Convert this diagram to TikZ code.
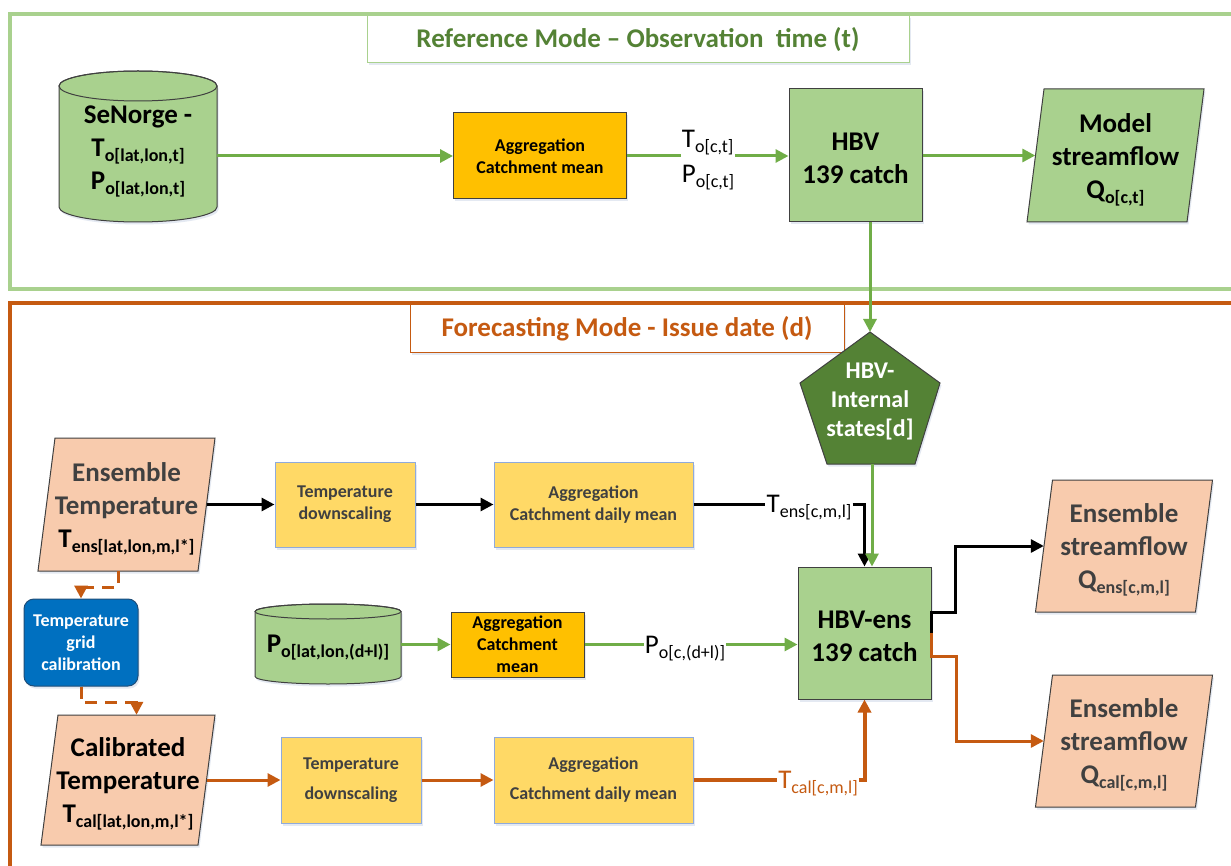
\documentclass[tikz,border=0pt]{standalone}
\usepackage{fontspec}
\setmainfont{Carlito}
\usetikzlibrary{arrows.meta,shadows,calc}
\definecolor{lgreen}{HTML}{A9D18E}
\definecolor{mgreen}{HTML}{70AD47}
\definecolor{dgreen}{HTML}{548235}
\definecolor{gold}{HTML}{FFC000}
\definecolor{lyellow}{HTML}{FFD966}
\definecolor{peach}{HTML}{F8CBAD}
\definecolor{rust}{HTML}{C55A11}
\definecolor{bblue}{HTML}{0070C0}
\definecolor{dblue}{HTML}{1F4E79}
\definecolor{dgray}{HTML}{404040}
\definecolor{ybord}{HTML}{8FAADC}
\definecolor{shad}{HTML}{C5D0E3}
\newcommand\mysub[1]{\raisebox{-5pt}{\fontsize{18}{20}\selectfont #1}}
\newcommand\fbig{\fontsize{27}{33}\selectfont}
\newcommand\fmid{\fontsize{24}{29}\selectfont}
\newcommand\fsmall{\fontsize{18}{22}\selectfont}
\tikzset{
  shd/.style={drop shadow={shadow xshift=1.5pt,shadow yshift=-2.5pt,opacity=0.45,fill=shad}},
  aggbox/.style={draw=black!75,fill=gold,line width=1pt,font=\fsmall\bfseries,align=center,shd},
  ybox/.style={draw=ybord,fill=lyellow,line width=1pt,text=dgray,font=\fsmall\bfseries,align=center,shd},
  gbox/.style={draw=black!75,fill=lgreen,line width=1pt,font=\fbig\bfseries,align=center,shd},
  lbl/.style={font=\fbig,inner sep=1pt,align=left},
  tip/.style={-{Triangle[length=13pt,width=13pt]}},
  gline/.style={draw=mgreen,line width=3pt},
  kline/.style={draw=black,line width=3pt},
  oline/.style={draw=rust,line width=3pt},
  othick/.style={draw=rust,line width=4pt},
  dline/.style={draw=rust,line width=3pt,dash pattern=on 12pt off 8pt},
}
% parallelogram: name, cx, cy, half width, half height, style, text
\newcommand\paral[7]{%
  \path[#6,shd] (#2-#4+8.5,#3-#5) -- (#2+#4+8.5,#3-#5) -- (#2+#4-8.5,#3+#5) -- (#2-#4-8.5,#3+#5) -- cycle;
  \node[inner sep=0,minimum width=2*#4 pt,minimum height=2*#5 pt] (#1) at (#2,#3) {};
  \node[inner sep=0,align=center,font=\fbig\bfseries] (#1txt) at (#2,#3+4) {#7};}
\begin{document}
\begin{tikzpicture}[x=1pt,y=-1pt]
\useasboundingbox (0,0) rectangle (1231,866);
\fill[white] (0,0) rectangle (1231,866);
\clip (0,0) rectangle (1231,866);
% frames
\draw[lgreen,line width=3.5pt] (10,14) rectangle (1270,289);
\draw[rust,line width=3.5pt] (10,303) rectangle (1270,900);
% titles
\node[draw=lgreen,line width=1pt,fill=white,minimum width=542pt,minimum height=47pt,shd,font=\fbig\bfseries,text=dgreen] (titleTop) at (638,39.5) {Reference Mode – Observation\ \ time (t)};
\node[draw=rust,line width=1pt,fill=white,minimum width=434pt,minimum height=48pt,shd,font=\fbig\bfseries,text=rust] (titleBot) at (627,329) {Forecasting Mode - Issue date (d)};
% SeNorge cylinder
\path[fill=lgreen,draw=black!75,line width=1pt,shd] (59,86) -- (59,207) arc[start angle=180,end angle=360,x radius=79pt,y radius=15pt] -- (217,86) arc[start angle=0,end angle=180,x radius=79pt,y radius=15pt] -- cycle;
\draw[black!75,line width=1pt] (138,86) ellipse[x radius=79pt,y radius=15pt];
\node[font=\fbig\bfseries,align=center,inner sep=0,minimum width=158pt] (senorge) at (138,151) {SeNorge -\\T\mysub{o[lat,lon,t]}\\P\mysub{o[lat,lon,t]}};
% top row
\node[aggbox,minimum width=173pt,minimum height=86pt] (aggTop) at (540,156) {Aggregation\\Catchment mean};
\node[gbox,minimum width=133pt,minimum height=133pt] (hbv) at (855.5,155.5) {\rule{0pt}{24pt}HBV\\139 catch};
\paral{model}{1115.5}{155.5}{80}{66.5}{fill=lgreen,draw=black!75,line width=1pt}{Model\\streamflow\\Q\mysub{o[c,t]}}
\node[lbl] (lblTP) at (708,160) {T\mysub{o[c,t]}\\[2pt]P\mysub{o[c,t]}};
% pentagon
\path[fill=dgreen,draw=black!75,line width=1pt,shd] (870,332) coordinate (pentTop) -- (940,383) -- (915,464) -- (827,464) -- (800,383) -- cycle;
\coordinate (pentBot) at (872,464);
\node[text=white,font=\fmid\bfseries,align=center] (pent) at (870,401) {HBV-\\Internal\\states[d]};
% ensemble temperature
\paral{tens}{126.5}{504.5}{80}{66.5}{fill=peach,draw=black!75,line width=1pt}{\textcolor{dgray}{Ensemble}\\\textcolor{dgray}{Temperature}\\T\mysub{ens[lat,lon,m,l*]}}
\node[ybox,minimum width=140pt,minimum height=85pt] (tdsTop) at (345,504.5) {Temperature\\downscaling};
\node[ybox,minimum width=199pt,minimum height=85pt] (aggdTop) at (593.5,504.5) {Aggregation\\Catchment daily mean};
\node[lbl] (lblTens) at (809,508) {T\mysub{ens[c,m,l]}};
% calibration
\node[fill=bblue,draw=dblue,rounded corners=10pt,minimum width=114pt,minimum height=87pt,text=white,font=\fsmall\bfseries,align=center,line width=1pt,shd] (blue) at (81,642.5) {Temperature\\grid\\calibration};
% P cylinder
\path[fill=lgreen,draw=black!75,line width=1pt,shd] (255,611.5) -- (255,676.5) arc[start angle=180,end angle=360,x radius=73pt,y radius=7.5pt] -- (401,611.5) arc[start angle=0,end angle=180,x radius=73pt,y radius=7.5pt] -- cycle;
\draw[black!75,line width=1pt] (328,611.5) ellipse[x radius=73pt,y radius=7.5pt];
\node[font=\fbig\bfseries,inner sep=0,minimum width=146pt] (pcyl) at (328,648) {P\mysub{o[lat,lon,(d+l)]}};
\node[aggbox,minimum width=133pt,minimum height=65pt] (aggMid) at (517.5,644.5) {Aggregation\\Catchment\\mean};
\node[lbl] (lblP) at (685,649) {P\mysub{o[c,(d+l)]}};
\node[gbox,minimum width=133pt,minimum height=132pt] (hbvens) at (864.5,633) {\rule{0pt}{24pt}HBV-ens\\139 catch};
% calibrated temperature
\paral{tcal}{128}{780}{78.5}{65}{fill=peach,draw=black!75,line width=1pt}{Calibrated\\Temperature\\T\mysub{cal[lat,lon,m,l*]}}
\node[ybox,minimum width=140pt,minimum height=86pt] (tdsBot) at (351,780) {Temperature\\[8pt]downscaling};
\node[ybox,minimum width=199pt,minimum height=86pt] (aggdBot) at (593.5,780) {Aggregation\\[8pt]Catchment daily mean};
\node[lbl,text=rust] (lblTcal) at (818,784) {T\mysub{cal[c,m,l]}};
% outputs
\paral{qens}{1124}{546}{80}{66}{fill=peach,draw=black!75,line width=1pt}{\color{dgray}Ensemble\\\color{dgray}streamflow\\\color{dgray}Q\mysub{ens[c,m,l]}}
\paral{qcal}{1124}{741}{80}{66}{fill=peach,draw=black!75,line width=1pt}{\color{dgray}Ensemble\\\color{dgray}streamflow\\\color{dgray}Q\mysub{cal[c,m,l]}}
% connectors top
\draw[gline,tip] (senorge.east |- aggTop.west) -- (aggTop.west);
\draw[gline] (aggTop.east) -- (aggTop.east -| lblTP.west);
\draw[gline,tip] (lblTP.east |- aggTop.east) -- (aggTop.east -| hbv.west);
\draw[gline,tip] (hbv.east) -- (model.west);
\draw[gline,tip] (hbv.south -| pentTop) -- (pentTop);
% forecasting connectors
\draw[kline,tip] (tens.east) -- (tdsTop.west);
\draw[kline,tip] (tdsTop.east) -- (aggdTop.west);
\draw[kline] (aggdTop.east) -- (aggdTop.east -| lblTens.west);
\draw[kline,tip] (lblTens.east |- aggdTop.east) -| (hbvens.north);
\draw[gline,tip] (pentBot) -- (pentBot |- hbvens.north);
\draw[gline,tip] (pcyl.east |- aggMid.west) -- (aggMid.west);
\draw[gline] (aggMid.east) -- (aggMid.east -| lblP.west);
\draw[gline,tip] (lblP.east |- aggMid.east) -- (aggMid.east -| hbvens.west);
\draw[oline,tip] (tcal.east) -- (tdsBot.west);
\draw[oline,tip] (tdsBot.east) -- (aggdBot.west);
\draw[othick] (aggdBot.east) -- (aggdBot.east -| lblTcal.west);
\draw[othick,tip] (lblTcal.east |- aggdBot.east) -| (hbvens.south);
\draw[kline,tip] (hbvens.east) -- ++(0,-21) -- ++(24,0) |- (qens.west);
\draw[oline,tip] (hbvens.east) -- ++(0,23) -- ++(25,0) |- (qcal.west);
\draw[dline,tip] ($(tens.south)+(-8.5,0)$) -- ++(0,16) -| (blue.north);
\draw[dline,tip] (blue.south) -- ++(0,16) -| ($(tcal.north)+(8.5,0)$);
\end{tikzpicture}
\end{document}
